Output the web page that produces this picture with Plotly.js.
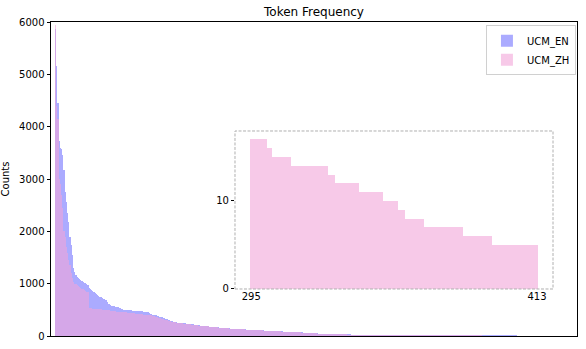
<!DOCTYPE html>
<html>
<head>
<meta charset="utf-8">
<script src="https://cdn.plot.ly/plotly-3.0.1.min.js"></script>
<style>
  html, body { margin: 0; padding: 0; background: #fff; }
  #chart { width: 586px; height: 349px; }
</style>
</head>
<body>
<div id="chart"></div>
<script>
// Token counts, sorted high to low (one bar per token rank)
const enCounts = [
    5860, 5150, 4450, 3720, 3600, 3580, 3460, 3170, 2760, 2570,
    2350, 2180, 1900, 1740, 1550, 1300, 1230, 1166, 1130, 1100,
    1080, 1065, 1050, 1035, 1020, 1010, 990, 975,
    917, 900, 880, 860, 840, 820, 800, 785, 770, 750,
    740, 725, 712, 700, 690, 650, 620, 605, 590, 580, 572, 565,
    560, 552, 545, 538, 530, 522, 515, 505, 500, 497,
    495, 492, 490, 488, 486, 484, 482, 480, 478, 476,
    474, 472, 470, 468, 466, 465, 458, 450, 440,
    420, 415, 410, 405, 400, 392, 385, 378, 370, 362,
    355, 348, 340, 330, 320, 306, 298, 290, 282, 276,
    270, 266, 262, 258, 254,
    252, 249, 246, 243, 240, 237, 234, 231, 229, 226,
    223, 220, 217, 214, 211, 208, 204, 200, 196,
    193, 190, 188, 186, 184, 181, 179, 177, 174, 172, 170, 168, 165, 163,
    161, 159, 157, 155, 153, 151, 149, 147, 145, 143, 142, 140, 139, 137,
    136, 134, 133, 131, 130, 128, 127, 125, 124, 123, 121, 120, 119, 118,
    116, 115, 114, 112, 111, 110, 108, 107, 106, 105, 103, 102, 101, 99,
    98, 97, 96, 95, 94, 92, 91, 90, 89, 88,
    87, 86, 85, 84, 82, 81, 80, 79, 78, 77,
    76, 75, 74, 72, 71,
    70, 68, 67, 65, 64, 62, 61, 59, 58, 56,
    55, 53, 52, 50, 49, 47, 46, 45, 43,
    42, 41, 40, 40, 39, 38, 38, 37, 36, 36,
    35, 34, 34, 33, 33, 32, 32, 31, 31, 30,
    30, 29, 29, 29, 28, 28, 28, 27,
    27, 26, 26, 26, 26, 25, 25, 25, 25, 25,
    24, 24, 24, 24, 24, 23, 23, 23, 23, 23,
    22, 22, 22, 22, 22, 22, 21, 21, 21, 21,
    21, 21, 20, 20, 20, 20,
    20, 20, 19, 19, 19, 19, 19, 18,
    18, 18, 18, 18, 18, 18,
    17, 17, 17, 17, 17, 17, 17, 17,
    16, 16, 16, 16, 16, 16, 16, 16, 16, 16,
    15, 15, 15, 15, 15, 15, 15, 15, 15, 15, 15, 15,
    14, 14, 14, 14, 14, 14, 14, 14, 14, 14, 14, 14,
    13, 13, 13, 13, 13, 13, 13, 13, 13, 13,
    12, 12, 12, 12, 12, 12, 12, 12, 12, 12, 12, 12,
    11, 11, 11, 11, 11, 11, 11, 11, 11, 11,
    10, 10, 10, 10, 10, 10, 10, 10, 10, 10,
    9, 9, 9, 9, 9, 9, 9, 9, 9, 9, 9, 9,
    8, 8, 8, 8, 8, 8, 8, 8, 8, 8, 8, 8,
    7, 7, 7, 7, 7, 7, 7, 7, 7, 7, 7, 7,
    6, 6, 6, 6, 6, 6, 6, 6, 6, 6, 6
];

const zhCounts = [
    5950, 4400, 4150, 3000, 2900, 2700, 2450, 2000, 1900, 1700,
    1580, 1450, 1350, 1200, 1100, 1030, 1000, 985, 975, 960,
    940, 920, 905, 890, 875, 860, 850, 840,
    540, 530, 528, 525, 522, 520, 517, 515, 512, 510,
    508, 505, 502, 500, 497, 495, 492, 490, 487, 484, 480, 476,
    470, 468, 466, 464, 462, 460, 458, 455, 452, 450,
    448, 445, 442, 440, 437, 434, 431, 428, 425, 422,
    419, 416, 413, 410, 408, 406, 404, 403, 402,
    398, 392, 385, 378, 370, 362, 355, 348, 340, 333,
    326, 320, 313, 306, 300, 294, 288, 282, 276, 270,
    265, 260, 256, 252, 248,
    245, 242, 239, 236, 233, 230, 227, 224, 221, 218,
    215, 212, 209, 206, 203, 200, 198, 196, 193,
    191, 189, 186, 184, 182, 179, 177, 175, 172, 170, 168, 166, 163, 161,
    159, 157, 155, 153, 151, 149, 147, 145, 143, 141, 140, 139, 137, 136,
    134, 133, 131, 130, 128, 127, 125, 124, 122, 121, 120, 119, 118, 116,
    115, 114, 112, 111, 110, 108, 107, 106, 104, 103, 102, 100, 99, 97,
    96, 95, 94, 93, 92, 91, 89, 88, 87, 86,
    85, 84, 83, 82, 80, 79, 78, 77, 76, 75,
    74, 73, 72, 70, 69,
    68, 66, 65, 63, 62, 60, 59, 57, 56, 54,
    53, 51, 50, 48, 47, 45, 44, 43, 41,
    40, 39, 39, 38, 37, 37, 36, 35, 35, 34,
    33, 33, 32, 32, 31, 31, 30, 30, 29, 29,
    28, 28, 28, 27, 27, 27, 26, 26,
    25, 25, 25, 25, 25, 24, 24, 24, 24, 24,
    23, 23, 23, 23, 23, 22, 22, 22, 22, 22,
    21, 21, 21, 21, 21, 21, 20, 20, 20, 20,
    20, 20, 19, 19, 19, 19,
    19, 19, 18, 18, 18, 18, 17, 17,
    // ranks 295..413 (shown in the zoomed inset)
    17, 17, 17, 17, 17, 17, 17,
    16, 16,
    15, 15, 15, 15, 15, 15, 15, 15,
    14, 14, 14, 14, 14, 14, 14, 14, 14, 14, 14, 14, 14, 14, 14,
    13, 13, 13,
    12, 12, 12, 12, 12, 12, 12, 12, 12, 12,
    11, 11, 11, 11, 11, 11, 11, 11, 11, 11,
    10, 10, 10, 10, 10, 10,
    9, 9, 9,
    8, 8, 8, 8, 8, 8, 8, 8,
    7, 7, 7, 7, 7, 7, 7, 7, 7, 7, 7, 7, 7, 7, 7, 7,
    6, 6, 6, 6, 6, 6, 6, 6, 6, 6, 6, 6,
    5, 5, 5, 5, 5, 5, 5, 5, 5, 5, 5, 5, 5, 5, 5, 5, 5, 5, 5
];

const insetStart = 295;
const insetEnd = 413;
const insetTicks = [295, 413];
const yTicks = [0, 1000, 2000, 3000, 4000, 5000, 6000];

const blue = 'rgba(0, 0, 255, 0.33)';
const pink = 'rgba(242, 165, 217, 0.6)';

const enRanks = enCounts.map((_, i) => i);
const zhRanks = zhCounts.map((_, i) => i);
const insetRanks = zhRanks.slice(insetStart, insetEnd + 1);
const insetCounts = zhCounts.slice(insetStart, insetEnd + 1);

const data = [
    {
        x: enRanks, y: enCounts, type: 'bar', name: 'UCM_EN', width: 1,
        marker: { color: blue, line: { width: 0 } },
        xaxis: 'x', yaxis: 'y', hoverinfo: 'skip'
    },
    {
        x: zhRanks, y: zhCounts, type: 'bar', name: 'UCM_ZH', width: 1,
        marker: { color: pink, line: { width: 0 } },
        xaxis: 'x', yaxis: 'y', hoverinfo: 'skip'
    },
    {
        x: insetRanks, y: insetCounts, type: 'bar', name: 'UCM_ZH inset', width: 1,
        marker: { color: pink, line: { width: 0 } },
        xaxis: 'x2', yaxis: 'y2', showlegend: false, hoverinfo: 'skip'
    }
];

const font = { family: 'DejaVu Sans, sans-serif', size: 10, color: '#000' };

const layout = {
    width: 586,
    height: 349,
    margin: { l: 51, r: 9, t: 22, b: 13 },
    paper_bgcolor: '#fff',
    plot_bgcolor: '#fff',
    font,
    barmode: 'overlay',
    bargap: 0,
    title: {
        text: 'Token Frequency',
        font: { family: 'DejaVu Sans, sans-serif', size: 12, color: '#000' },
        x: 0.5, xref: 'paper', y: 0.966, yanchor: 'middle'
    },
    xaxis: {
        domain: [0, 1],
        range: [-3.8, 434.5],
        showticklabels: false,
        ticks: '',
        showgrid: false,
        zeroline: false,
        showline: true,
        mirror: true,
        linecolor: '#000',
        linewidth: 1
    },
    yaxis: {
        domain: [0, 1],
        range: [0, 6000],
        tickvals: yTicks,
        ticks: 'outside',
        ticklen: 3.5,
        tickcolor: '#000',
        showgrid: false,
        zeroline: false,
        showline: true,
        mirror: true,
        linecolor: '#000',
        linewidth: 1,
        title: { text: 'Counts', font: { family: 'DejaVu Sans, sans-serif', size: 10 }, standoff: 8 }
    },
    xaxis2: {
        domain: [0.3498, 0.9544],
        anchor: 'y2',
        range: [288.3, 419.6],
        tickvals: insetTicks,
        ticks: '',
        showgrid: false,
        zeroline: false,
        showline: false
    },
    yaxis2: {
        domain: [0.1497, 0.6529],
        anchor: 'x2',
        range: [0, 17.95],
        tickvals: [0, 10],
        ticks: 'outside',
        ticklen: 3,
        tickcolor: '#000',
        showgrid: false,
        zeroline: false,
        showline: false
    },
    shapes: [{
        type: 'rect',
        xref: 'x2 domain', yref: 'y2 domain',
        x0: 0, x1: 1, y0: 0, y1: 1,
        line: { color: '#b0b0b0', width: 1, dash: '3px,1.5px' },
        fillcolor: 'rgba(0,0,0,0)'
    }],
    legend: {
        x: 0.998, y: 0.99,
        xanchor: 'right', yanchor: 'top',
        bgcolor: 'rgba(255,255,255,0.8)',
        bordercolor: '#d0d0d0',
        borderwidth: 1,
        font: { family: 'DejaVu Sans, sans-serif', size: 10 },
        tracegroupgap: 2,
        itemwidth: 30
    },
    showlegend: true
};

Plotly.newPlot('chart', data, layout, { staticPlot: true, displayModeBar: false });
</script>
</body>
</html>
